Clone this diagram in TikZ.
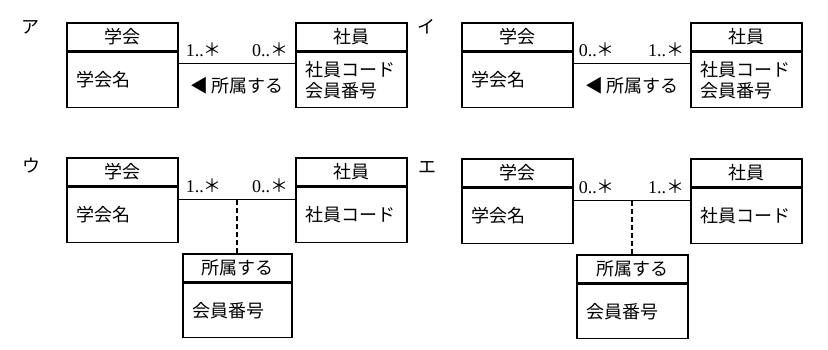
\documentclass[tikz,border=0pt]{standalone}
\usepackage{fontspec}
\setmainfont{Liberation Serif}
\newfontfamily\jp{Noto Sans CJK JP}
\usetikzlibrary{positioning}

\tikzset{
  clshead/.style={draw, line width=1.3pt, minimum width=111pt, minimum height=28pt,
    inner sep=0pt, font=\jp\fontsize{18}{21}\selectfont},
  clsbody/.style={draw, line width=1.3pt, minimum height=55pt, text width=93pt,
    inner xsep=9pt, inner ysep=0pt, align=left, font=\jp\fontsize{18}{21}\selectfont},
  assoc/.style={line width=1pt},
  mult/.style={font=\fontsize{18}{20}\selectfont, inner sep=0pt},
  rolename/.style={font=\jp\fontsize{18}{20}\selectfont, inner sep=0pt},
  choice/.style={font=\jp\fontsize{18}{20}\selectfont}
}

\begin{document}
\begin{tikzpicture}[x=1pt,y=-1pt]
  \useasboundingbox (0,0) rectangle (828,350);

  % ア
  \node[choice] (lA) at (30,27) {ア};
  \node[clshead] (gA) at (122.5,37) {学会};
  \node[clsbody, below=0pt of gA] (gAb) {学会名};
  \node[clshead] (sA) at (351.5,37) {社員};
  \node[clsbody, below=0pt of sA] (sAb) {社員コード\\会員番号};
  \coordinate (aA1) at ([yshift=-12pt]gAb.north east);
  \coordinate (aA2) at ([yshift=-12pt]sAb.north west);
  \draw[assoc] (aA1) -- node[rolename, below=13pt] (rA) {◀\,所属する} (aA2);
  \node[mult, above right=7pt and 7pt of aA1] (mA1) {1..{\jp ＊}};
  \node[mult, above left=7pt and 7pt of aA2] (mA2) {0..{\jp ＊}};

  % イ
  \node[choice] (lB) at (426,27) {イ};
  \node[clshead] (gB) at (517.5,37) {学会};
  \node[clsbody, below=0pt of gB] (gBb) {学会名};
  \node[clshead] (sB) at (746.5,37) {社員};
  \node[clsbody, below=0pt of sB] (sBb) {社員コード\\会員番号};
  \coordinate (aB1) at ([yshift=-12pt]gBb.north east);
  \coordinate (aB2) at ([yshift=-12pt]sBb.north west);
  \draw[assoc] (aB1) -- node[rolename, below=13pt] (rB) {◀\,所属する} (aB2);
  \node[mult, above right=7pt and 5pt of aB1] (mB1) {0..{\jp ＊}};
  \node[mult, above left=7pt and 6pt of aB2] (mB2) {1..{\jp ＊}};

  % ウ
  \node[choice] (lC) at (31,166) {ウ};
  \node[clshead] (gC) at (122.5,172) {学会};
  \node[clsbody, below=0pt of gC] (gCb) {学会名};
  \node[clshead] (sC) at (351.5,172) {社員};
  \node[clsbody, below=0pt of sC] (sCb) {社員コード};
  \coordinate (aC1) at ([yshift=-13pt]gCb.north east);
  \coordinate (aC2) at ([yshift=-13pt]sCb.north west);
  \draw[assoc] (aC1) -- coordinate[midway] (mC) (aC2);
  \node[mult, above right=7pt and 7pt of aC1] (mC1) {1..{\jp ＊}};
  \node[mult, above left=7pt and 7pt of aC2] (mC2) {0..{\jp ＊}};
  \node[clshead, minimum width=109pt] (kC) at (237.5,268) {所属する};
  \node[clsbody, text width=91pt, minimum height=54pt, below=0pt of kC] (kCb) {会員番号};
  \draw[dashed, line width=1.2pt, dash pattern=on 5pt off 3pt] (mC) -- (mC |- kC.north);

  % エ
  \node[choice] (lD) at (427,167) {エ};
  \node[clshead] (gD) at (517.5,173) {学会};
  \node[clsbody, below=0pt of gD] (gDb) {学会名};
  \node[clshead] (sD) at (746.5,173) {社員};
  \node[clsbody, below=0pt of sD] (sDb) {社員コード};
  \coordinate (aD1) at ([yshift=-13pt]gDb.north east);
  \coordinate (aD2) at ([yshift=-13pt]sDb.north west);
  \draw[assoc] (aD1) -- coordinate[midway] (mD) (aD2);
  \node[mult, above right=7pt and 5pt of aD1] (mD1) {0..{\jp ＊}};
  \node[mult, above left=7pt and 6pt of aD2] (mD2) {1..{\jp ＊}};
  \node[clshead] (kD) at (632.5,269) {所属する};
  \node[clsbody, minimum height=54pt, below=0pt of kD] (kDb) {会員番号};
  \draw[dashed, line width=1.2pt, dash pattern=on 5pt off 3pt] (mD) -- (mD |- kD.north);
\end{tikzpicture}
\end{document}
